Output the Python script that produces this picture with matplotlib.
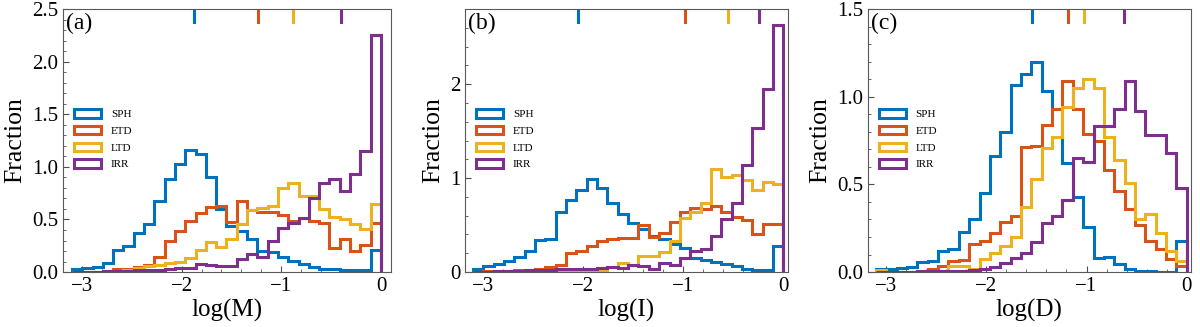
import numpy as np
import matplotlib
matplotlib.use("Agg")
import matplotlib.pyplot as plt

plt.rcParams['font.family'] = ['Liberation Serif', 'DejaVu Serif']
plt.rcParams['mathtext.fontset'] = 'stix'

# 30 bins from -3.1 to 0
edges = np.linspace(-3.1, 0.0, 31)
labels = ['SPH', 'ETD', 'LTD', 'IRR']
colors = ['#0072BD', '#D95319', '#EDB120', '#7E2F8E']

# panel (a): log(M)
sph_m = [0.03, 0.04, 0.05, 0.09, 0.21, 0.25, 0.37, 0.46, 0.68, 0.88, 1.03, 1.16, 1.12, 0.90, 0.60,
         0.44, 0.39, 0.31, 0.20, 0.19, 0.14, 0.105, 0.08, 0.045, 0.03, 0.025, 0.02, 0.02, 0.015, 0.21]
etd_m = [0.002, 0.003, 0.004, 0.005, 0.03, 0.03, 0.05, 0.07, 0.14, 0.30, 0.39, 0.49, 0.56, 0.62, 0.63,
         0.48, 0.68, 0.59, 0.57, 0.57, 0.54, 0.49, 0.51, 0.49, 0.47, 0.23, 0.31, 0.20, 0.26, 0.47]
ltd_m = [0.002, 0.002, 0.003, 0.004, 0.01, 0.02, 0.04, 0.06, 0.07, 0.09, 0.10, 0.13, 0.21, 0.29, 0.24,
         0.31, 0.46, 0.59, 0.61, 0.63, 0.80, 0.85, 0.72, 0.72, 0.60, 0.52, 0.50, 0.46, 0.41, 0.65]
irr_m = [0.005, 0.005, 0.005, 0.01, 0.01, 0.01, 0.015, 0.02, 0.02, 0.025, 0.04, 0.04, 0.08, 0.065, 0.055,
         0.055, 0.12, 0.17, 0.14, 0.30, 0.42, 0.47, 0.51, 0.70, 0.85, 0.88, 0.77, 0.93, 1.15, 2.25]
med_m = [-1.876, -1.231, -0.880, -0.401]

# panel (b): log(I)
sph_i = [0.03, 0.065, 0.09, 0.12, 0.16, 0.22, 0.34, 0.35, 0.64, 0.77, 0.875, 0.99, 0.89, 0.74, 0.62,
         0.52, 0.46, 0.385, 0.35, 0.30, 0.26, 0.15, 0.13, 0.11, 0.085, 0.06, 0.035, 0.025, 0.02, 0.28]
etd_i = [0.005, 0.008, 0.01, 0.015, 0.02, 0.025, 0.035, 0.05, 0.08, 0.20, 0.22, 0.28, 0.33, 0.35, 0.36,
         0.36, 0.50, 0.37, 0.42, 0.53, 0.64, 0.68, 0.67, 0.70, 0.64, 0.59, 0.55, 0.41, 0.51, 0.51]
ltd_i = [0.0, 0.0, 0.0, 0.002, 0.004, 0.005, 0.006, 0.008, 0.01, 0.015, 0.02, 0.025, 0.02, 0.05, 0.10,
         0.07, 0.17, 0.17, 0.21, 0.33, 0.58, 0.64, 0.74, 1.10, 1.01, 1.03, 0.975, 0.875, 0.955, 0.94]
irr_i = [0.005, 0.005, 0.008, 0.01, 0.015, 0.02, 0.02, 0.025, 0.03, 0.03, 0.035, 0.035, 0.04, 0.05, 0.04,
         0.07, 0.065, 0.035, 0.10, 0.075, 0.15, 0.225, 0.245, 0.385, 0.56, 0.74, 1.14, 1.53, 1.95, 2.63]
med_i = [-2.054, -0.978, -0.554, -0.238]

# panel (c): log(D)
sph_d = [0.015, 0.02, 0.025, 0.03, 0.06, 0.065, 0.12, 0.13, 0.23, 0.30, 0.45, 0.66, 0.80, 1.065, 1.13,
         1.20, 1.03, 0.93, 0.62, 0.43, 0.255, 0.08, 0.085, 0.045, 0.015, 0.005, 0.004, 0.003, 0.003, 0.18]
etd_d = [0.003, 0.003, 0.003, 0.003, 0.005, 0.015, 0.035, 0.065, 0.07, 0.16, 0.18, 0.22, 0.285, 0.32, 0.715,
         0.72, 0.84, 0.93, 1.09, 0.93, 0.79, 0.745, 0.58, 0.46, 0.36, 0.27, 0.18, 0.13, 0.073, 0.035]
ltd_d = [0.01, 0.003, 0.003, 0.003, 0.003, 0.004, 0.005, 0.035, 0.035, 0.015, 0.073, 0.11, 0.15, 0.20, 0.37,
         0.53, 0.71, 0.77, 0.94, 1.05, 1.10, 1.05, 0.77, 0.64, 0.51, 0.30, 0.33, 0.22, 0.12, 0.063]
irr_d = [0.003, 0.003, 0.003, 0.003, 0.004, 0.005, 0.005, 0.006, 0.008, 0.01, 0.02, 0.03, 0.054, 0.083, 0.11,
         0.17, 0.28, 0.32, 0.41, 0.65, 0.63, 0.835, 0.835, 0.93, 1.09, 0.92, 0.78, 0.78, 0.68, 0.48]
med_d = [-1.544, -1.187, -1.020, -0.627]

panels = [
    ('(a)', 'log(M)', [sph_m, etd_m, ltd_m, irr_m], med_m, (0, 2.5), 0.5, 0.1, (-3.19, 0.10)),
    ('(b)', 'log(I)', [sph_i, etd_i, ltd_i, irr_i], med_i, (0, 2.8), 1.0, 0.2, (-3.18, 0.045)),
    ('(c)', 'log(D)', [sph_d, etd_d, ltd_d, irr_d], med_d, (0, 1.5), 0.5, 0.1, (-3.18, 0.04)),
]
lefts = [0.0525, 0.3875, 0.7233]
widths = [0.2733, 0.269, 0.269]

fig = plt.figure(figsize=(12, 3.27), dpi=100)
centers = 0.5 * (edges[:-1] + edges[1:])

for (tag, xlab, series, meds, ylim, ymaj, ymin_, xlim), l, w in zip(panels, lefts, widths):
    ax = fig.add_axes([l, 0.168, w, 0.8043])
    for vals, c, lab in zip(series, colors, labels):
        ax.hist(centers, bins=edges, weights=vals, histtype='step', color=c, lw=2.2, label=lab)
    # median markers along the top
    for m, c in zip(meds, colors):
        ax.axvline(m, ymin=0.95, ymax=1.0, color=c, lw=2.2)
    ax.set_xlim(*xlim)
    ax.set_ylim(*ylim)
    ax.xaxis.set_major_locator(plt.MultipleLocator(1))
    ax.xaxis.set_minor_locator(plt.MultipleLocator(0.2))
    ax.yaxis.set_major_locator(plt.MultipleLocator(ymaj))
    ax.yaxis.set_minor_locator(plt.MultipleLocator(ymin_))
    if ymaj < 1:
        ax.yaxis.set_major_formatter(plt.FormatStrFormatter('%.1f'))
    else:
        ax.yaxis.set_major_formatter(plt.FormatStrFormatter('%d'))
    ax.tick_params(which='both', direction='in', labelsize=15, color='0.3')
    ax.tick_params(which='major', length=4.5)
    ax.tick_params(which='minor', length=2.5)
    for s in ax.spines.values():
        s.set_color('0.35')
    ax.set_xlabel(xlab, fontsize=18, labelpad=2)
    ax.set_ylabel('Fraction', fontsize=18.5, labelpad=4)
    ax.text(0.008, 0.985, tag, transform=ax.transAxes, fontsize=17, va='top', ha='left')
    ax.legend(loc='center left', bbox_to_anchor=(0.0, 0.505), frameon=False, fontsize=8,
              handlelength=2.4, handleheight=0.8, handletextpad=0.9, labelspacing=0.6,
              borderaxespad=0.6)

fig.savefig('out.png', dpi=100)
